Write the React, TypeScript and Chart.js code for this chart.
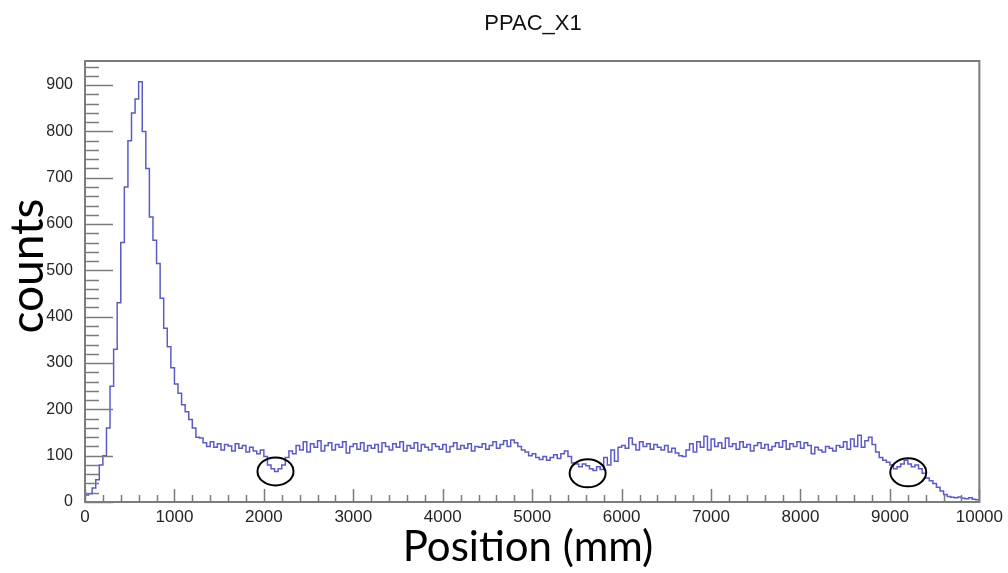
import { useEffect, useRef } from "react";
import { Chart, registerables } from "chart.js";

Chart.register(...registerables);

// ---- data ----
const TITLE = "PPAC_X1";
const X_LABEL = "Position (mm)";
const Y_LABEL = "counts";
const X_MIN = 0;
const X_MAX = 10000;
const Y_MIN = 0;
const Y_MAX = 952;
const BIN_WIDTH = 40;

// histogram contents, one value per 40 mm bin (0 .. 10000 mm)
const binCounts = [
  15, 18, 30, 48, 80, 100, 160, 250, 330, 430,
  560, 680, 780, 840, 870, 907, 800, 720, 615, 565,
  515, 440, 375, 335, 290, 255, 235, 210, 195, 178,
  160, 140, 138, 128, 120, 130, 118, 126, 112, 124,
  121, 110, 126, 116, 122, 108, 118, 110, 104, 112,
  98, 80, 72, 66, 72, 80, 96, 110, 104, 122,
  112, 130, 108, 126, 118, 132, 110, 122, 128, 112,
  124, 118, 130, 106, 120, 126, 114, 128, 110, 122,
  116, 124, 108, 128, 120, 112, 126, 118, 130, 110,
  122, 116, 128, 110, 124, 118, 112, 126, 120, 114,
  124, 108, 120, 128, 114, 122, 116, 126, 110, 120,
  118, 126, 114, 122, 130, 116, 124, 132, 120, 134,
  128, 120, 112, 108, 100, 104, 96, 92, 98, 90,
  96, 102, 94, 104, 110, 98, 84, 82, 76, 82,
  78, 72, 68, 76, 70, 96, 80, 112, 88, 118,
  122, 116, 138, 124, 112, 130, 120, 126, 114, 124,
  118, 112, 122, 108, 116, 106, 100, 98, 112, 126,
  108, 130, 118, 142, 112, 136, 120, 128, 116, 138,
  120, 126, 114, 130, 118, 124, 110, 122, 128, 116,
  124, 112, 120, 128, 118, 132, 114, 126, 120, 130,
  116, 128, 122, 104, 118, 112, 108, 120, 116, 110,
  122, 118, 130, 114, 136, 120, 144, 118, 132, 140,
  124, 108, 96, 90, 86, 80, 72, 76, 82, 90,
  82, 76, 80, 72, 62, 52, 46, 40, 32, 24,
  16, 12, 10, 9, 11, 8, 7, 9, 6, 5,
];

// axis tick labels
const xTickValues = [0, 1000, 2000, 3000, 4000, 5000, 6000, 7000, 8000, 9000, 10000];
const yTickValues = [0, 100, 200, 300, 400, 500, 600, 700, 800, 900];
const X_MINOR_STEP = 200;
const Y_MINOR_STEP = 20;

// circled regions (data coordinates)
const markerX = [2130, 5620, 9205];
const markerY = [66, 62, 64];

// ---- styles ----
const LINE_COLOR = "#5b5bc8";
const AXIS_COLOR = "#7c7c7c";
const TICK_TEXT = "#262626";

const rootStylePlugin = {
  id: "rootStyle",
  afterDatasetsDraw(chart: any) {
    const { ctx, chartArea: a, scales } = chart;
    const xs = scales.x;
    const ys = scales.y;
    ctx.save();
    ctx.strokeStyle = AXIS_COLOR;
    ctx.lineWidth = 1.5;
    ctx.beginPath();
    for (let v = X_MIN; v <= X_MAX; v += X_MINOR_STEP) {
      const px = Math.round(xs.getPixelForValue(v)) + 0.5;
      const len = xTickValues.includes(v) ? 13 : 7;
      ctx.moveTo(px, a.bottom);
      ctx.lineTo(px, a.bottom - len);
    }
    for (let v = Y_MIN; v <= Y_MAX; v += Y_MINOR_STEP) {
      const py = Math.round(ys.getPixelForValue(v)) + 0.5;
      const len = yTickValues.includes(v) ? 28 : 14;
      ctx.moveTo(a.left, py);
      ctx.lineTo(a.left + len, py);
    }
    ctx.stroke();
    ctx.lineWidth = 2;
    ctx.strokeRect(a.left, a.top, a.right - a.left, a.bottom - a.top);
    ctx.strokeStyle = "#000";
    ctx.lineWidth = 2;
    for (let i = 0; i < markerX.length; i++) {
      const cx = xs.getPixelForValue(markerX[i]);
      const cy = ys.getPixelForValue(markerY[i]);
      ctx.beginPath();
      ctx.ellipse(cx, cy, 18, 14, 0, 0, Math.PI * 2);
      ctx.stroke();
    }
    ctx.restore();
  },
  afterDraw(chart: any) {
    const { ctx } = chart;
    ctx.save();
    ctx.fillStyle = "#111";
    ctx.textAlign = "center";
    ctx.textBaseline = "middle";
    ctx.font = '22px "Liberation Sans", Arial, sans-serif';
    ctx.fillText(TITLE, 533, 24);
    ctx.fillStyle = "#000";
    ctx.font = '42px Lato, "Open Sans", sans-serif';
    ctx.fillText(X_LABEL, 528, 547);
    ctx.translate(28, 266);
    ctx.rotate(-Math.PI / 2);
    ctx.font = '46px Lato, "Open Sans", sans-serif';
    ctx.fillText(Y_LABEL, 0, 0);
    ctx.restore();
  },
};

export default function App() {
  const canvasRef = useRef<HTMLCanvasElement | null>(null);

  useEffect(() => {
    if (!canvasRef.current) return;
    const points = binCounts.map((c, i) => ({ x: X_MIN + i * BIN_WIDTH, y: c }));
    points.push({ x: X_MIN + binCounts.length * BIN_WIDTH, y: binCounts[binCounts.length - 1] });

    const chart = new Chart(canvasRef.current, {
      type: "line",
      data: {
        datasets: [
          {
            data: points,
            borderColor: LINE_COLOR,
            borderWidth: 1.5,
            pointRadius: 0,
            stepped: true,
            fill: false,
          },
        ],
      },
      options: {
        animation: false,
        responsive: false,
        devicePixelRatio: 1,
        layout: { padding: { top: 61, right: 27, bottom: 0, left: 0 } },
        plugins: {
          legend: { display: false },
          title: { display: false },
          tooltip: { enabled: false },
        },
        scales: {
          x: {
            type: "linear",
            min: X_MIN,
            max: X_MAX,
            grid: { display: false, drawTicks: false },
            border: { display: false },
            afterBuildTicks: (s: any) => {
              s.ticks = xTickValues.map((v) => ({ value: v }));
            },
            afterFit: (s: any) => {
              s.height = 71;
            },
            ticks: {
              autoSkip: false,
              maxRotation: 0,
              padding: 5,
              color: TICK_TEXT,
              font: { family: '"Liberation Sans", Arial, sans-serif', size: 17 },
              callback: (v: any) => String(v),
            },
          },
          y: {
            type: "linear",
            min: Y_MIN,
            max: Y_MAX,
            grid: { display: false, drawTicks: false },
            border: { display: false },
            afterBuildTicks: (s: any) => {
              s.ticks = yTickValues.map((v) => ({ value: v }));
            },
            afterFit: (s: any) => {
              s.width = 85;
            },
            ticks: {
              padding: 12,
              color: TICK_TEXT,
              font: { family: '"Liberation Sans", Arial, sans-serif', size: 16 },
              callback: (v: any) => String(v),
            },
          },
        },
      },
      plugins: [rootStylePlugin],
    });
    return () => chart.destroy();
  }, []);

  return (
    <div style={{ position: "fixed", left: 0, top: 0, width: 1008, height: 573, background: "#fff" }}>
      <canvas ref={canvasRef} width={1008} height={573} style={{ width: 1008, height: 573, display: "block" }} />
    </div>
  );
}
